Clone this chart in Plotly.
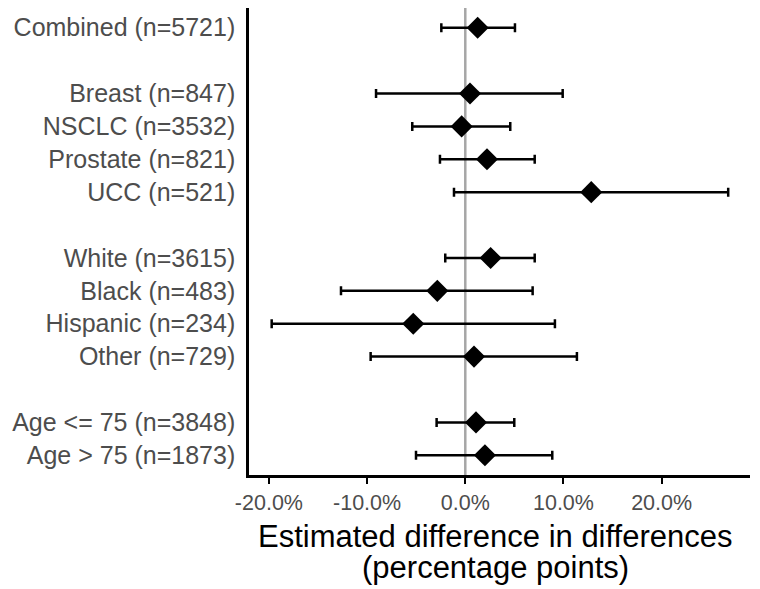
import plotly.graph_objects as go

labels = ["Combined (n=5721)", "Breast (n=847)", "NSCLC (n=3532)", "Prostate (n=821)",
          "UCC (n=521)", "White (n=3615)", "Black (n=483)", "Hispanic (n=234)",
          "Other (n=729)", "Age <= 75 (n=3848)", "Age > 75 (n=1873)"]
slots = [0, 2, 3, 4, 5, 7, 8, 9, 10, 12, 13]
estimate = [0.0126, 0.0048, -0.0037, 0.0221, 0.1283, 0.0258, -0.0285, -0.0530, 0.0089, 0.0109, 0.0200]
lower = [-0.0244, -0.0909, -0.0540, -0.0258, -0.0115, -0.0204, -0.1266, -0.1972, -0.0964, -0.0292, -0.0502]
upper = [0.0506, 0.0992, 0.0458, 0.0707, 0.2678, 0.0707, 0.0686, 0.0913, 0.1137, 0.0499, 0.0886]
xticks = [-0.2, -0.1, 0.0, 0.1, 0.2]
xtick_labels = ["-20.0%", "-10.0%", "0.0%", "10.0%", "20.0%"]
title_lines = ["Estimated difference in differences", "(percentage points)"]

err_plus = [u - e for u, e in zip(upper, estimate)]
err_minus = [e - l for e, l in zip(estimate, lower)]

# page body has an 8px margin; figure is sized/placed to compensate
W, H = 752, 581
ML, MR, MT, MB = 241, 10, 0, 114
H_PLOT = H - MT - MB
W_PLOT = W - ML - MR

fig = go.Figure()
fig.add_shape(type="line", x0=0, x1=0, y0=0, y1=1, xref="x", yref="paper",
              line=dict(color="#a6a6a6", width=2.5), layer="below")
fig.add_trace(go.Scatter(
    x=estimate, y=slots, mode="markers",
    marker=dict(symbol="diamond", size=17, color="black"),
    error_x=dict(type="data", symmetric=False, array=err_plus, arrayminus=err_minus,
                 color="black", thickness=2.5, width=4.5),
    showlegend=False, cliponaxis=False))

font = "Liberation Sans, Arial, sans-serif"
for i, line in enumerate(title_lines):
    fig.add_annotation(text=line, xref="paper", yref="paper",
                       x=(487 - ML) / W_PLOT, y=-(61 + 31 * i) / H_PLOT,
                       xanchor="center", yanchor="middle", showarrow=False,
                       font=dict(size=31, color="black", family=font))

fig.update_layout(
    width=W, height=H,
    margin=dict(l=ML, r=MR, t=MT, b=MB, pad=0),
    paper_bgcolor="white", plot_bgcolor="white",
    font=dict(family=font),
    xaxis=dict(range=[-0.2203, 0.29], tickvals=xticks, ticktext=xtick_labels, automargin=False,
               showgrid=False, zeroline=False, showline=True, linecolor="black", linewidth=2.5,
               ticks="outside", ticklen=6, tickwidth=2, tickcolor="black",
               tickfont=dict(size=21.5, color="#4d4d4d", family=font)),
    yaxis=dict(range=[13.6, -0.6], tickvals=slots, ticktext=labels, automargin=False,
               showgrid=False, zeroline=False, showline=True, linecolor="black", linewidth=2.5,
               ticks="outside", ticklen=6, tickcolor="rgba(0,0,0,0)",
               tickfont=dict(size=25, color="#4d4d4d", family=font)),
)
fig.write_html("out.html")
